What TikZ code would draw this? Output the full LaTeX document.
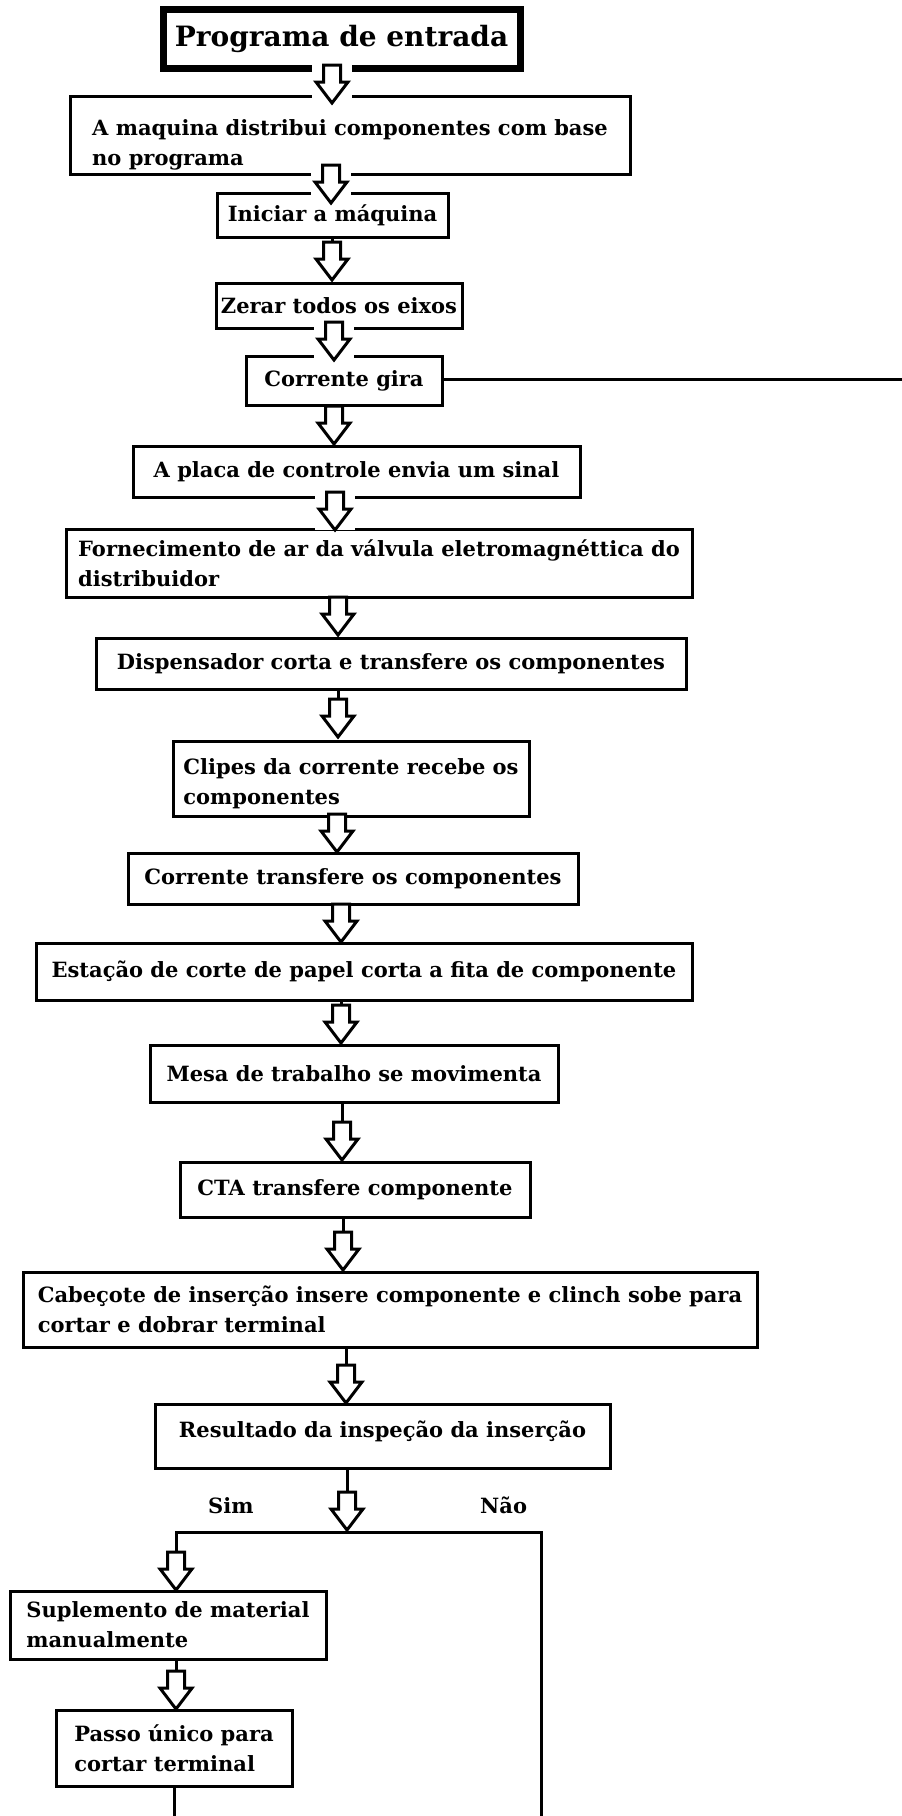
\documentclass[tikz,border=0pt]{standalone}
\usepackage{fontspec}
\setmainfont{DejaVu Serif}
\usetikzlibrary{calc}
\newcommand\boxfont{\fontsize{21}{30}\selectfont\bfseries}
\newcommand\titlefont{\fontsize{28}{34}\selectfont\bfseries}
\begin{document}
\begin{tikzpicture}[x=1pt,y=-1pt,
  box/.style={draw, line width=3pt, rectangle, anchor=north west, inner sep=0pt, outer sep=0pt, align=left, font=\boxfont},
  titlebox/.style={box, line width=7pt, font=\titlefont},
  conn/.style={line width=3pt},
  lbl/.style={anchor=base west, inner sep=0pt, font=\boxfont},
  darrow/.pic={\draw[line width=3pt, fill=white, line join=miter] (0,0) -- (-16,-21) -- (-8.5,-21) -- (-8.5,-38) -- (8.5,-38) -- (8.5,-21) -- (16,-21) -- cycle;},
  mask/.pic={\fill[white] (-20,-38) rectangle (20,0);}
]
\useasboundingbox[fill=white] (0,0) rectangle (902,1816);

% boxes
\node[titlebox, minimum width=357pt, minimum height=58.5pt] (b1) at (163,9.5) {Programa de entrada};
\node[box, minimum width=560pt, minimum height=78pt] (b2) at (70,96) {\rule{0pt}{36pt}A maquina distribui componentes com base\\no programa};
\node[box, minimum width=231pt, minimum height=44pt] (b3) at (217,193) {Iniciar a máquina};
\node[box, minimum width=246pt, minimum height=45pt] (b4) at (216,283) {Zerar todos os eixos};
\node[box, minimum width=196pt, minimum height=49pt] (b5) at (246,356) {Corrente gira};
\node[box, minimum width=447pt, minimum height=51pt] (b6) at (133,446) {A placa de controle envia um sinal};
\node[box, minimum width=626pt, minimum height=68pt] (b7) at (66,529) {Fornecimento de ar da válvula eletromagnéttica do\\distribuidor};
\node[box, minimum width=590pt, minimum height=51pt] (b8) at (96,638) {Dispensador corta e transfere os componentes};
\node[box, minimum width=356pt, minimum height=75pt] (b9) at (173,741) {\rule{0pt}{26pt}Clipes da corrente recebe os\\componentes};
\node[box, minimum width=450pt, minimum height=51pt] (b10) at (128,853) {Corrente transfere os componentes};
\node[box, minimum width=656pt, minimum height=57pt] (b11) at (36,943) {Estação de corte de papel corta a fita de componente};
\node[box, minimum width=408pt, minimum height=57pt] (b12) at (150,1045) {Mesa de trabalho se movimenta};
\node[box, minimum width=350pt, minimum height=55pt] (b13) at (180,1162) {CTA transfere componente};
\node[box, minimum width=734pt, minimum height=75pt] (b14) at (23,1272) {Cabeçote de inserção insere componente e clinch sobe para\\cortar e dobrar terminal};
\node[box, minimum width=455pt, minimum height=64pt, text depth=14pt] (b15) at (155,1404) {Resultado da inspeção da inserção};
\node[box, minimum width=316pt, minimum height=68pt] (b16) at (10,1591) {Suplemento de material\\manualmente};
\node[box, minimum width=236pt, minimum height=76pt] (b17) at (56,1710) {Passo único para\\cortar terminal};

% labels
\node[lbl] (sim) at (208,1513) {Sim};
\node[lbl] (nao) at (480,1513) {Não};

% arrow tips
\coordinate (t1) at (332,103);
\coordinate (t2) at (331,203);
\coordinate (t3) at (332,280);
\coordinate (t4) at (334,360);
\coordinate (t5) at (334,444);
\coordinate (t6) at (335,530);
\coordinate (t7) at (338,635);
\coordinate (t8) at (338,737);
\coordinate (t9) at (337,852);
\coordinate (t10) at (341,942);
\coordinate (t11) at (341,1043);
\coordinate (t12) at (342,1160);
\coordinate (t13) at (343,1270);
\coordinate (t14) at (346,1403);
\coordinate (t15) at (347,1530);
\coordinate (t16) at (176,1590);
\coordinate (t17) at (176,1709);

% junction and free ends
\coordinate (jl) at (176,1532);
\coordinate (jr) at (541,1532);
\coordinate (endL) at (174,1816);
\coordinate (endR) at (541,1816);
\coordinate (endT) at (902,379);

% connectors (lines)
\draw[conn] (b5.east |- endT) -- (endT);
\draw[conn] (b3.south -| t3) -- ($(t3)+(0,-38)$);
\draw[conn] (b8.south -| t8) -- ($(t8)+(0,-38)$);
\draw[conn] (b11.south -| t11) -- ($(t11)+(0,-38)$);
\draw[conn] (b12.south -| t12) -- ($(t12)+(0,-38)$);
\draw[conn] (b13.south -| t13) -- ($(t13)+(0,-38)$);
\draw[conn] (b14.south -| t14) -- ($(t14)+(0,-38)$);
\draw[conn] (b15.south -| t15) -- ($(t15)+(0,-38)$);
\draw[conn] (b16.south -| t17) -- ($(t17)+(0,-38)$);
\draw[conn] ($(t16)+(0,-38)$) -- (jl) -- (jr) -- (endR);
\draw[conn] (b17.south) -- (endL);

% masks where arrows cut box borders
\pic at (t1) {mask};
\pic at (t2) {mask};
\pic at (t4) {mask};
\pic at (t6) {mask};

% block arrows
\foreach \t in {t1,t2,t3,t4,t5,t6,t7,t8,t9,t10,t11,t12,t13,t14,t15,t16,t17}
  \pic at (\t) {darrow};
\end{tikzpicture}
\end{document}
